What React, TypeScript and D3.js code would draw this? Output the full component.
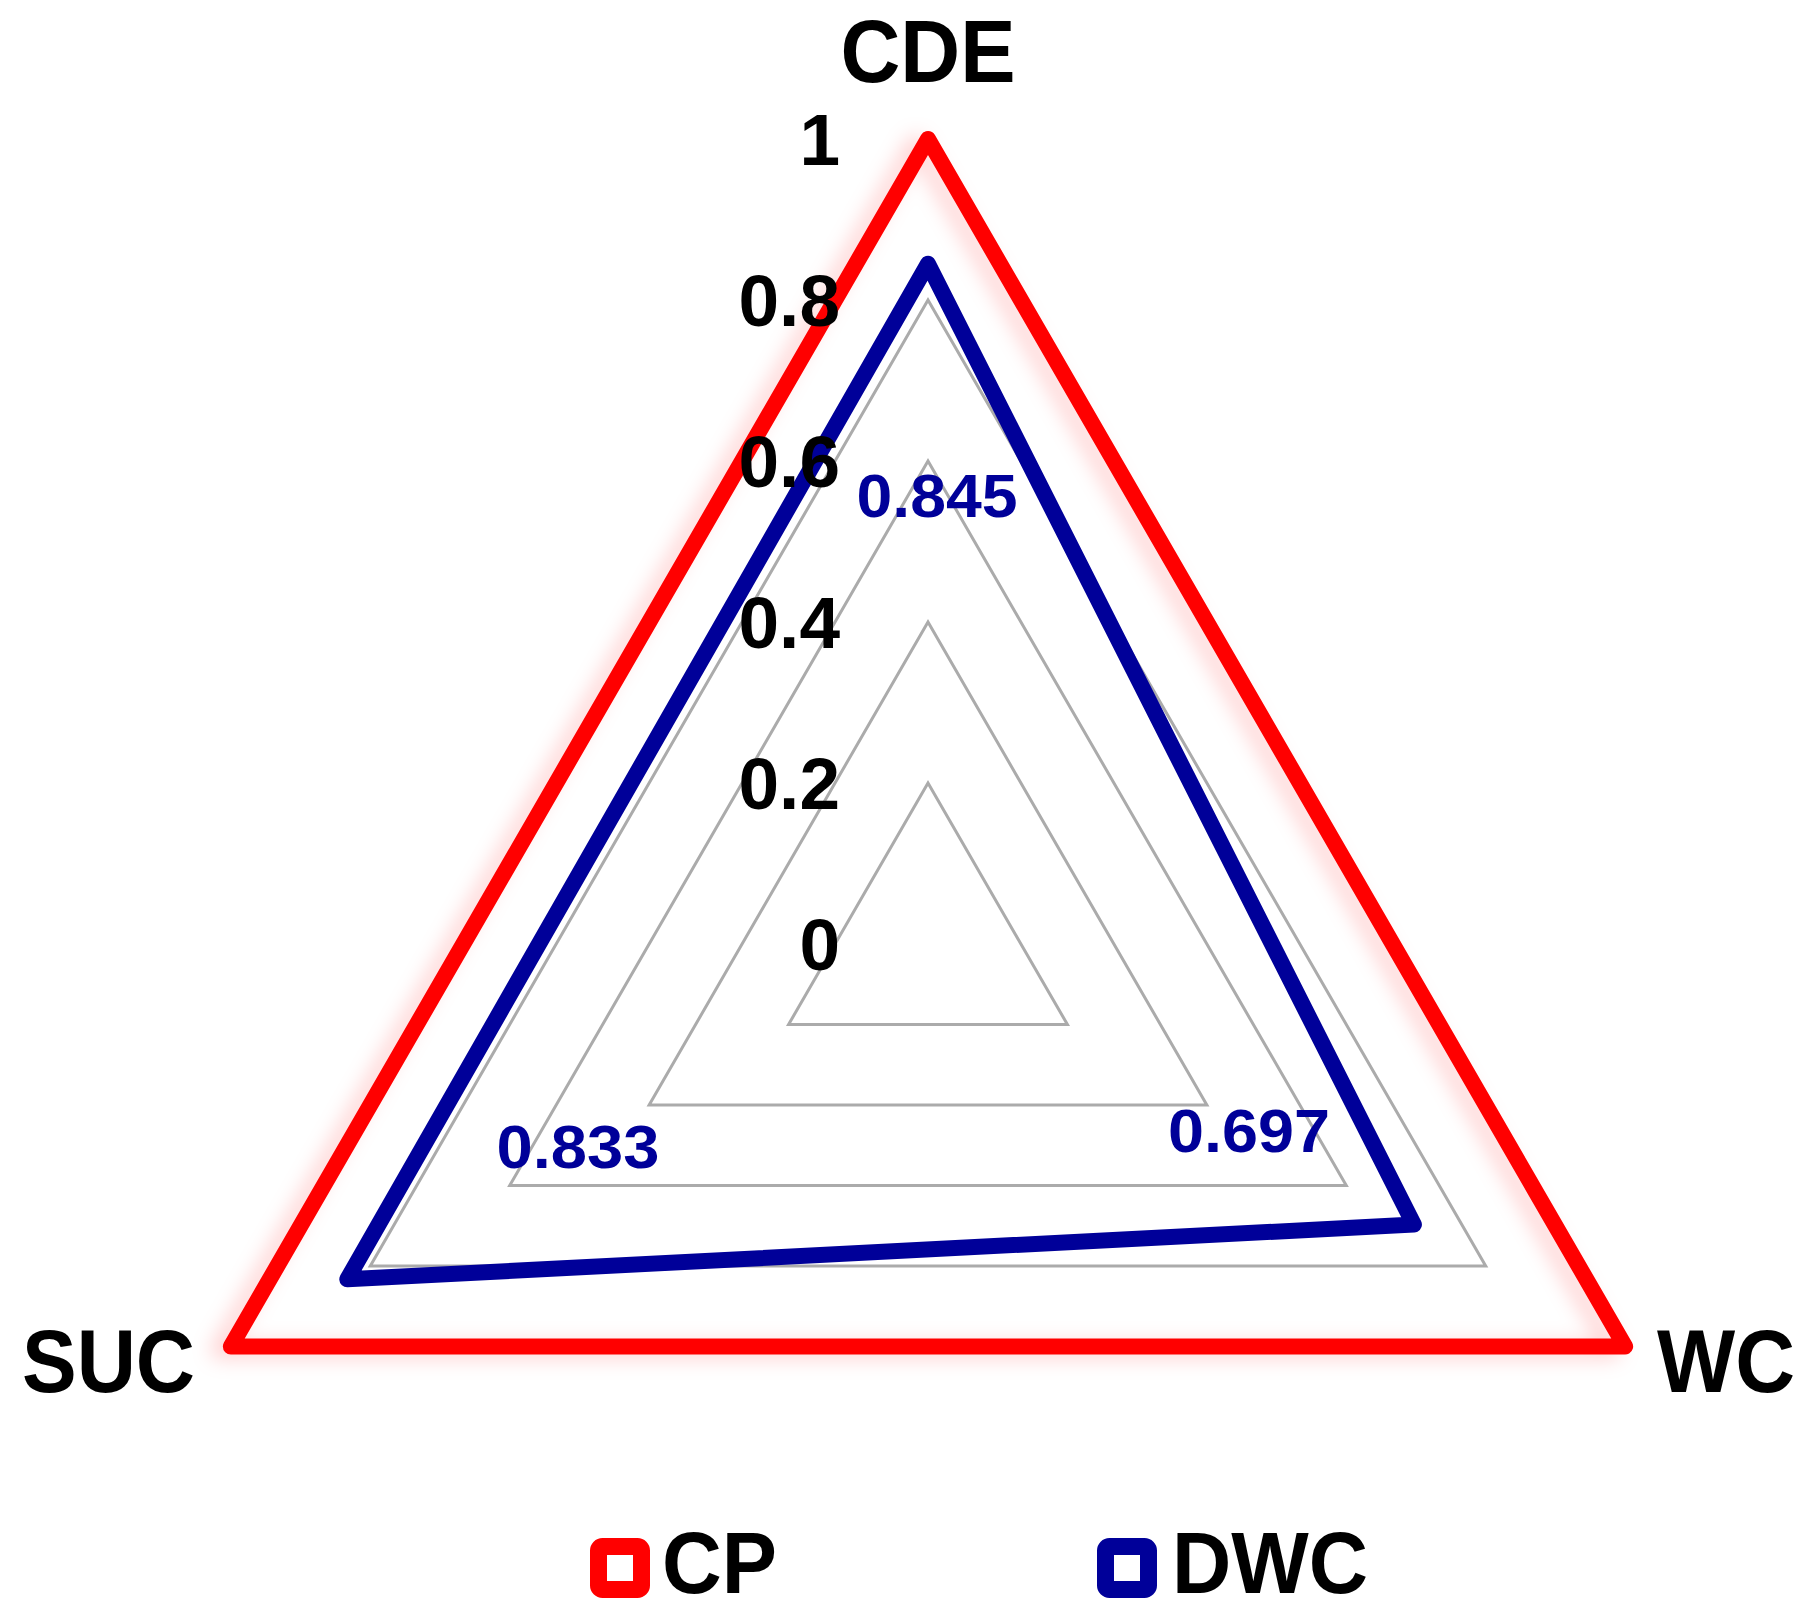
import React from "react";
import * as d3 from "d3";

const axes = ["CDE", "WC", "SUC"];
const seriesNames = ["CP", "DWC"];
const cpValues = [1, 1, 1];
const dwcValues = [0.845, 0.697, 0.833];
const dwcLabels = ["0.845", "0.697", "0.833"];
const gridLevels = [0.2, 0.4, 0.6, 0.8, 1];
const tickLabels = ["0", "0.2", "0.4", "0.6", "0.8", "1"];
const tickValues = [0, 0.2, 0.4, 0.6, 0.8, 1];

const W = 1808;
const H = 1622;
const cx = 928;
const cy = 944;
const R = 805;
const RED = "#ff0000";
const BLUE = "#000099";
const FONT = "'Liberation Sans', Arial, sans-serif";

export default function App() {
  const r = d3.scaleLinear().domain([0, 1]).range([0, R]);
  const angle = d3
    .scaleOrdinal<string, number>()
    .domain(axes)
    .range(axes.map((_, i) => (i * 2 * Math.PI) / axes.length));

  const radial = d3
    .lineRadial<number>()
    .angle((_, i) => angle(axes[i]))
    .radius((v) => r(v))
    .curve(d3.curveLinearClosed);

  const dataLabelPos = [
    { x: 937, y: 517, len: 161 },
    { x: 1249, y: 1152, len: 162 },
    { x: 578, y: 1168, len: 163 },
  ];

  const legend = [
    { x: 590, col: RED, tx: 662, tl: 115 },
    { x: 1097, col: BLUE, tx: 1172, tl: 196 },
  ];

  return (
    <svg
      width={W}
      height={H}
      style={{ position: "absolute", left: 0, top: 0, background: "#fff" }}
    >
      <defs>
        <filter id="glow" x="-20%" y="-20%" width="140%" height="140%">
          <feGaussianBlur in="SourceAlpha" stdDeviation="10" result="b" />
          <feOffset in="b" dx="-12" dy="4" result="o" />
          <feFlood floodColor="#ff0000" floodOpacity="0.18" />
          <feComposite in2="o" operator="in" result="s" />
          <feMerge>
            <feMergeNode in="s" />
            <feMergeNode in="SourceGraphic" />
          </feMerge>
        </filter>
      </defs>
      <rect width={W} height={H} fill="#fff" />
      <g transform={`translate(${cx},${cy})`}>
        {gridLevels.map((lv) => (
          <path
            key={lv}
            d={radial(axes.map(() => lv)) || ""}
            fill="none"
            stroke="#ababab"
            strokeWidth={3}
          />
        ))}
        <path
          d={radial(dwcValues) || ""}
          fill="none"
          stroke={BLUE}
          strokeWidth={16}
          strokeLinejoin="round"
        />
        <path
          d={radial(cpValues) || ""}
          fill="none"
          stroke={RED}
          strokeWidth={16}
          strokeLinejoin="round"
          filter="url(#glow)"
        />
      </g>

      {dwcLabels.map((t, i) => (
        <text
          key={t}
          x={dataLabelPos[i].x}
          y={dataLabelPos[i].y}
          textAnchor="middle"
          fontFamily={FONT}
          fontWeight="bold"
          fontSize={61}
          fill={BLUE}
          textLength={dataLabelPos[i].len}
          lengthAdjust="spacingAndGlyphs"
        >
          {t}
        </text>
      ))}

      {tickValues.map((v, i) => (
        <text
          key={tickLabels[i]}
          x={840}
          y={cy - r(v)}
          dy="0.36em"
          textAnchor="end"
          fontFamily={FONT}
          fontWeight="bold"
          fontSize={73}
          fill="#000"
        >
          {tickLabels[i]}
        </text>
      ))}

      <text
        x={cx}
        y={82}
        textAnchor="middle"
        fontFamily={FONT}
        fontWeight="bold"
        fontSize={89}
        textLength={175}
        lengthAdjust="spacingAndGlyphs"
      >
        {axes[0]}
      </text>
      <text
        x={1657}
        y={1392}
        textAnchor="start"
        fontFamily={FONT}
        fontWeight="bold"
        fontSize={89}
        textLength={138}
        lengthAdjust="spacingAndGlyphs"
      >
        {axes[1]}
      </text>
      <text
        x={195}
        y={1392}
        textAnchor="end"
        fontFamily={FONT}
        fontWeight="bold"
        fontSize={89}
        textLength={173}
        lengthAdjust="spacingAndGlyphs"
      >
        {axes[2]}
      </text>

      {seriesNames.map((name, i) => {
        const l = legend[i];
        return (
          <g key={name}>
            <rect
              x={l.x + 8.5}
              y={1538 + 8.5}
              width={43}
              height={43}
              rx={4}
              fill="#fff"
              stroke={l.col}
              strokeWidth={17}
            />
            <text
              x={l.tx}
              y={1593}
              fontFamily={FONT}
              fontWeight="bold"
              fontSize={87}
              textLength={l.tl}
              lengthAdjust="spacingAndGlyphs"
            >
              {name}
            </text>
          </g>
        );
      })}
    </svg>
  );
}
